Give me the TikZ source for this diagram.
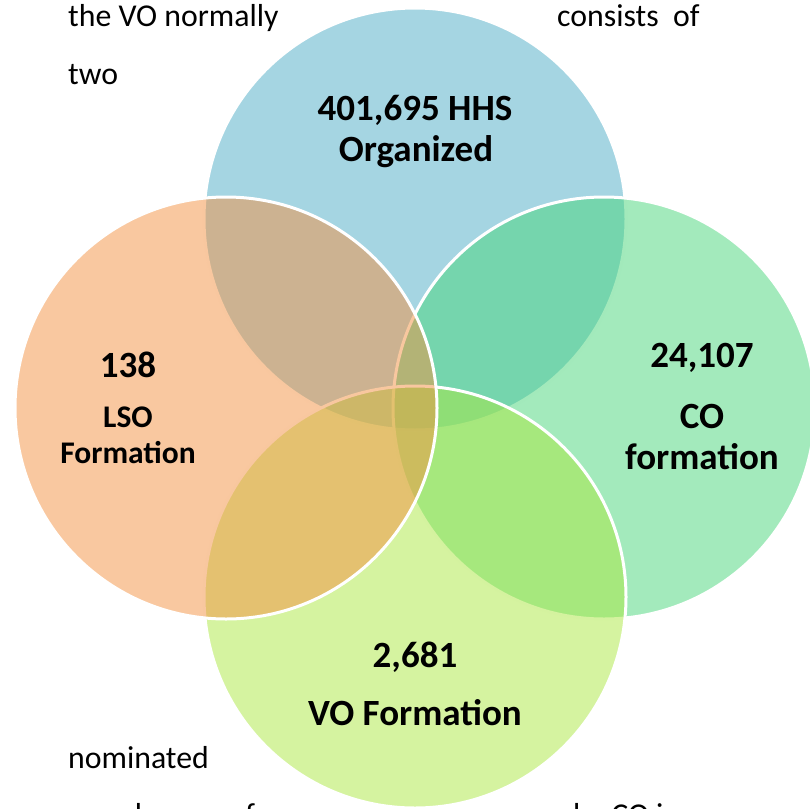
\documentclass[tikz,border=0pt]{standalone}
\usepackage{fontspec}
\setmainfont{Carlito}
\definecolor{cTop}{RGB}{75,171,197}
\definecolor{cLeft}{RGB}{243,145,65}
\definecolor{cRight}{RGB}{71,213,121}
\definecolor{cBottom}{RGB}{171,231,65}
\begin{document}
\begin{tikzpicture}[x=1pt,y=-1pt,
  venn/.style={circle, inner sep=0pt, minimum size=422pt, draw=white, line width=3pt, fill opacity=0.5},
  body/.style={inner sep=0pt, font=\fontsize{31.8}{37}\selectfont},
  big/.style={inner sep=0pt, font=\fontsize{37}{43}\selectfont\bfseries},
  mid/.style={inner sep=0pt, font=\fontsize{31.5}{37}\selectfont\bfseries}]
\useasboundingbox (0,0) rectangle (810,808);
\node[venn, fill=cTop] (top) at (415,219) {};
\node[venn, fill=cRight] (right) at (604,408) {};
\node[venn, fill=cBottom] (bottom) at (415,597) {};
\node[venn, fill=cLeft] (left) at (226,408) {};
% labels
\node[big] (t1) at (415,110) {401,695 HHS};
\node[big] (t2) at (416,152) {Organized};
\node[big] (l1) at (128,365) {138};
\node[mid] (l2) at (128,417) {LSO};
\node[mid] (l3) at (128,453) {Formation};
\node[big] (r1) at (702,358) {24,107};
\node[big] (r2) at (702,416) {CO};
\node[big] (r3) at (702,457) {formation};
\node[big] (b1) at (415,657) {2,681};
\node[big] (b2) at (415,713) {VO Formation};
% body text
\node[body, anchor=base west] (p1) at (68,27) {the VO normally};
\node[body, anchor=base west] (p2) at (557,27) {consists\hspace{0.45em}of};
\node[body, anchor=base west] (p3) at (68,84) {two};
\node[body, anchor=base west] (p4) at (68,768) {nominated};
\node[body, anchor=base west] (p5) at (68,825) {members\hspace{1.2em}of};
\node[body, anchor=base west] (p6) at (573,825) {by CO in};
\end{tikzpicture}
\end{document}
